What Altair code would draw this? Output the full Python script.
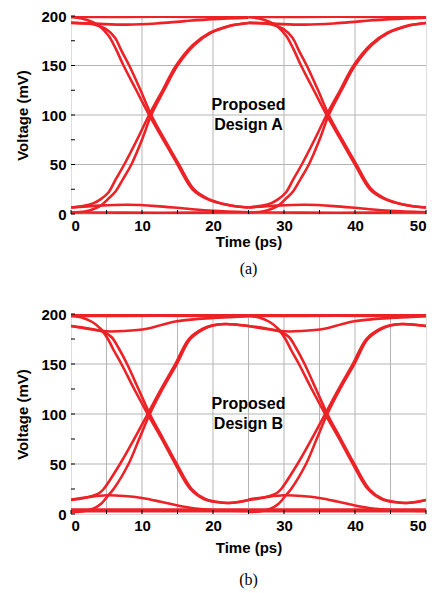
import altair as alt
import pandas as pd

# ---------------- data (one unit interval, 0..25 ps; drawn at offsets 0 and 25) -------------
UI_OFFSETS = [0, 25]

# Panel (a) - Proposed Design A
A_H1_T = [0, 12.5, 25]
A_H1_V = [199, 199.2, 199]
A_H2_T = [0, 4, 8, 12, 16, 20, 25]
A_H2_V = [193.3, 192, 191.3, 192.5, 194.8, 196.8, 198.3]
A_L1_T = [0, 12.5, 25]
A_L1_V = [1.5, 1.3, 1.5]
A_L2_T = [0, 4, 8, 12, 16, 20, 25]
A_L2_V = [6.6, 8.5, 9.3, 8, 5.5, 3.2, 1.8]
A_F1_T = [0, 1.5, 3, 4.0, 5.3, 6.3, 7.4, 9.2, 11.0, 13.0, 15.0, 17.1, 19.2, 21.7, 23.4, 25]
A_F1_V = [199, 197.5, 194, 190, 180, 167, 150, 125, 100, 75, 50, 25, 15, 9.5, 7.5, 6.5]
A_F2_T = [0, 2, 3.5, 4.9, 6.2, 7.1, 8.2, 9.8, 11.3, 13.2, 15.2, 17.3, 19.4, 21.9, 23.6, 25]
A_F2_V = [193, 192.5, 191, 187, 178, 165, 150, 125, 100, 75, 50, 25, 15, 9.5, 7.5, 6.5]
A_R1_T = [0, 2, 3.2, 4.3, 5.2, 6.3, 7.3, 8.5, 10, 11.3, 13.1, 15.0, 17.4, 19.7, 22.4, 23.9, 25]
A_R1_V = [1.5, 2.5, 5, 9, 15, 23, 35, 50, 75, 100, 125, 150, 171, 183, 190, 192, 193]
A_R2_T = [0, 2, 3.2, 4.2, 5.3, 6.3, 7.5, 9.3, 11.0, 12.9, 14.8, 17.2, 19.5, 22.2, 23.8, 25]
A_R2_V = [6.5, 8.5, 11, 15, 22, 35, 50, 75, 100, 125, 150, 171, 183, 190, 192, 193]

# Panel (b) - Proposed Design B
B_H1_T = [0, 12.5, 25]
B_H1_V = [198, 198.2, 198]
B_H0_T = [0, 12.5, 25]
B_H0_V = [199.3, 199.3, 199.3]
B_H2_T = [0, 2.5, 5, 7.5, 10.7, 13, 14.9, 17.5, 20, 25]
B_H2_V = [188, 185, 182.7, 183, 185.3, 189.5, 192.7, 194.8, 196, 197.7]
B_L1_T = [0, 12.5, 25]
B_L1_V = [2.8, 2.8, 2.8]
B_L0_T = [0, 12.5, 25]
B_L0_V = [4.5, 4.5, 4.5]
B_L2_T = [0, 2.5, 5, 7.5, 10, 12.5, 15, 17.5, 20, 25]
B_L2_V = [14.5, 17, 18.7, 18, 16, 12.5, 8.5, 5.5, 4, 3]
B_F1_T = [0, 1.5, 3, 4.2, 5.2, 6.0, 7.1, 8.9, 10.8, 12.8, 14.7, 16.8, 18.7, 20.5, 22, 23.5, 25]
B_F1_V = [198, 196.5, 192, 185, 175, 164, 150, 125, 100, 75, 50, 25, 15, 12, 11, 12, 14]
B_F2_T = [0, 2.5, 4.6, 5.7, 6.7, 7.9, 9.5, 11.1, 13.0, 14.9, 17.0, 18.9, 20.7, 22.2, 23.7, 25]
B_F2_V = [188, 185.5, 182, 177, 166, 150, 125, 100, 75, 50, 25, 15, 12, 11, 12, 14]
B_R1_T = [0, 1.5, 3, 4.2, 5.4, 6.0, 8.1, 9.6, 11.1, 12.9, 14.9, 16.8, 18.7, 20, 21.8, 23.5, 25]
B_R1_V = [2, 2.5, 5, 10, 20, 25, 50, 75, 100, 125, 150, 175, 185, 188.5, 190, 189.3, 188]
B_R2_T = [0, 1.5, 3, 4.0, 4.6, 6.9, 8.9, 10.8, 12.7, 14.7, 16.6, 18.5, 19.8, 21.5, 23.3, 25]
B_R2_V = [14, 15.5, 18, 21, 25, 50, 75, 100, 125, 150, 175, 185, 188.5, 190, 189.3, 188]

TRACES_A = {"H1": (A_H1_T, A_H1_V), "H2": (A_H2_T, A_H2_V), "L1": (A_L1_T, A_L1_V),
            "L2": (A_L2_T, A_L2_V), "F1": (A_F1_T, A_F1_V), "F2": (A_F2_T, A_F2_V),
            "R1": (A_R1_T, A_R1_V), "R2": (A_R2_T, A_R2_V)}
TRACES_B = {"H0": (B_H0_T, B_H0_V), "H1": (B_H1_T, B_H1_V), "H2": (B_H2_T, B_H2_V),
            "L0": (B_L0_T, B_L0_V), "L1": (B_L1_T, B_L1_V), "L2": (B_L2_T, B_L2_V),
            "F1": (B_F1_T, B_F1_V), "F2": (B_F2_T, B_F2_V),
            "R1": (B_R1_T, B_R1_V), "R2": (B_R2_T, B_R2_V)}

X_TICKS = [0, 5, 10, 15, 20, 25, 30, 35, 40, 45, 50]
Y_TICKS = [0, 25, 50, 75, 100, 125, 150, 175, 200]
LABEL_A = ["Proposed", "Design A"]
LABEL_B = ["Proposed", "Design B"]
LABEL_T = 25
LABEL_V = 110

RED = "#ec2227"
FONT = "Liberation Sans"


def build_df(traces):
    rows = []
    for off in UI_OFFSETS:
        for name, (ts, vs) in traces.items():
            for t, v in zip(ts, vs):
                rows.append({"trace": f"{name}_{off}", "t": t + off, "v": v})
    return pd.DataFrame(rows)


def panel(traces, label, caption, x_grid_step, height, title_pad, cap_offset):
    df = build_df(traces)
    xgrid = [x for x in X_TICKS if x % x_grid_step == 0]
    xs = alt.Scale(domain=[0, 50], nice=False, zero=False)
    ys = alt.Scale(domain=[0, 200], nice=False, zero=False)
    lines = alt.Chart(df).mark_line(color=RED, strokeWidth=2.6, interpolate="catmull-rom", clip=True).encode(
        x=alt.X("t:Q", scale=xs, title="Time (ps)",
                axis=alt.Axis(values=[0, 10, 20, 30, 40, 50], grid=False, ticks=False, domain=False,
                              labelFontSize=15, labelFontWeight="bold", labelFont=FONT,
                              labelColor="black", labelPadding=4, titleFont=FONT, titleFontSize=15,
                              titleFontWeight="bold", titleColor="black", titlePadding=title_pad)),
        y=alt.Y("v:Q", scale=ys, title="Voltage (mV)",
                axis=alt.Axis(values=[0, 50, 100, 150, 200], grid=False, ticks=False, domain=False,
                              labelFontSize=15, labelFontWeight="bold", labelFont=FONT,
                              labelColor="black", labelPadding=5, titleFont=FONT, titleFontSize=15,
                              titleFontWeight="bold", titleColor="black", titlePadding=10)),
        detail="trace:N",
    )
    gx = alt.Chart(pd.DataFrame({"x": xgrid[1:-1]})).mark_rule(color="#b5b5b5", strokeWidth=1).encode(
        x=alt.X("x:Q", scale=xs))
    gy = alt.Chart(pd.DataFrame({"y": [50, 100, 150]})).mark_rule(color="#b5b5b5", strokeWidth=1).encode(
        y=alt.Y("y:Q", scale=ys))
    tx = alt.Chart(pd.DataFrame({"x": X_TICKS})).mark_rule(color="black", strokeWidth=1).encode(
        x=alt.X("x:Q", scale=xs), y=alt.value(height), y2=alt.value(height - 4))
    ty = alt.Chart(pd.DataFrame({"y": Y_TICKS})).mark_rule(color="black", strokeWidth=1).encode(
        y=alt.Y("y:Q", scale=ys), x=alt.value(0), x2=alt.value(4))
    txt = alt.Chart(pd.DataFrame({"t": [LABEL_T], "v": [LABEL_V], "s": [label]})).mark_text(
        font=FONT, fontSize=16, fontWeight="bold", color="black", lineHeight=20,
        align="center", baseline="middle").encode(
        x=alt.X("t:Q", scale=xs), y=alt.Y("v:Q", scale=ys), text="s")
    return alt.layer(gx, gy, lines, tx, ty, txt).properties(
        width=355, height=height,
        title=alt.TitleParams(caption, orient="bottom", font="Liberation Serif", fontSize=16,
                              fontWeight="normal", color="black", offset=cap_offset),
    )


pa = panel(TRACES_A, LABEL_A, "(a)", 10, 198, 1, 12)
pb = panel(TRACES_B, LABEL_B, "(b)", 5, 200, 7, 17)

chart = alt.vconcat(pa, pb, spacing=28).properties(
    padding={"left": 15, "top": 8, "right": 11, "bottom": 5}
).configure_view(stroke="black", strokeWidth=1.5).configure(background="white")

chart.save("out.html", embed_options={"renderer": "svg", "actions": False})
